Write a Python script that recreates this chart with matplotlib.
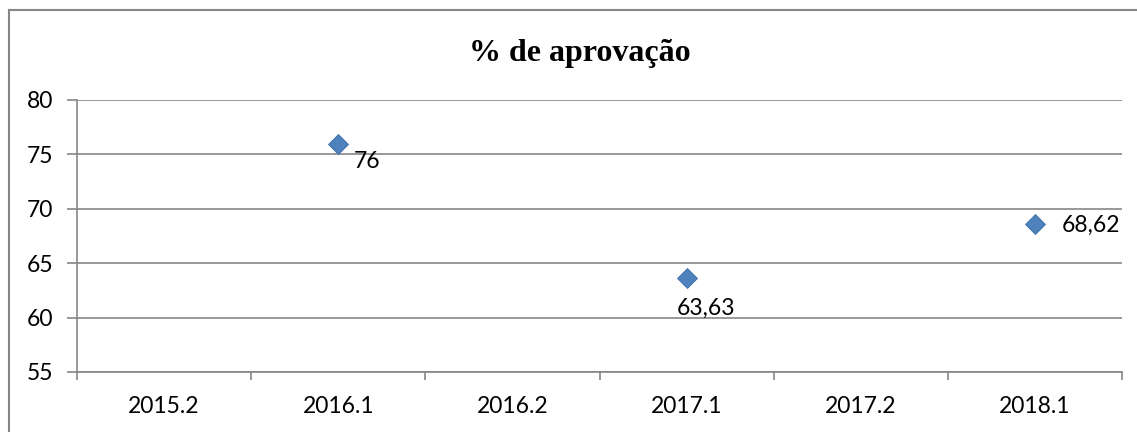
import matplotlib
matplotlib.use("Agg")
import matplotlib.pyplot as plt
from matplotlib.lines import Line2D

# data
semesters = ['2015.2', '2016.1', '2016.2', '2017.1', '2017.2', '2018.1']
point_semesters = ['2016.1', '2017.1', '2018.1']
approval = [76, 63.63, 68.62]
point_labels = ['76', '63,63', '68,62']
y_ticks = [55, 60, 65, 70, 75, 80]

W, H = 1137, 432
grid_color = '#868686'
marker_color = '#4F81BD'
font = 'Lato'
fsize = 16.5

fig = plt.figure(figsize=(W / 100, H / 100), dpi=100)
ax = fig.add_axes([77 / W, 1 - 372 / H, (1122 - 77) / W, (372 - 100) / H])

# outer chart frame: only the top and left edges fall inside the image
fx, fy = 8.5 / W, 1 - 10 / H
fig.lines.append(Line2D([fx, 1.0], [fy, fy], transform=fig.transFigure,
                        color=grid_color, linewidth=1.5))
fig.lines.append(Line2D([fx, fx], [0.0, fy], transform=fig.transFigure,
                        color=grid_color, linewidth=1.5))

xs = [semesters.index(s) for s in point_semesters]
ax.plot(xs, approval, linestyle='none', marker='D', markersize=10,
        color=marker_color, markeredgecolor='#3d6ea8', markeredgewidth=0.6, zorder=5)

offsets = [(11, -13), (14, -22), (19, -1)]
aligns = ['left', 'center', 'left']
for x, y, lab, off, ha in zip(xs, approval, point_labels, offsets, aligns):
    ax.annotate(lab, (x, y), xytext=off, textcoords='offset points',
                ha=ha, va='center', fontsize=fsize, family=font)

ax.set_xlim(-0.5, len(semesters) - 0.5)
ax.set_ylim(55, 80)
ax.set_yticks(y_ticks)
ax.set_xticks(range(len(semesters)))
ax.set_xticklabels(semesters)
ax.set_xticks([i - 0.5 for i in range(len(semesters) + 1)], minor=True)
ax.tick_params(axis='x', which='major', length=0, pad=17)
ax.tick_params(axis='x', which='minor', length=6, color=grid_color, width=1.2)
ax.tick_params(axis='y', length=7, color=grid_color, width=1.2, pad=10)
for t in ax.get_xticklabels() + ax.get_yticklabels():
    t.set_fontfamily(font)
    t.set_fontsize(fsize)

ax.grid(axis='y', color=grid_color, linewidth=1.2)
ax.set_axisbelow(True)
for side in ['top', 'right']:
    ax.spines[side].set_visible(False)
for side in ['left', 'bottom']:
    ax.spines[side].set_color(grid_color)
    ax.spines[side].set_linewidth(1.2)

fig.text(580 / W, 1 - 53 / H, '% de aprovação', ha='center', va='center',
         fontsize=23, fontweight='bold', family='Liberation Serif')

fig.savefig('out.png', dpi=100)
